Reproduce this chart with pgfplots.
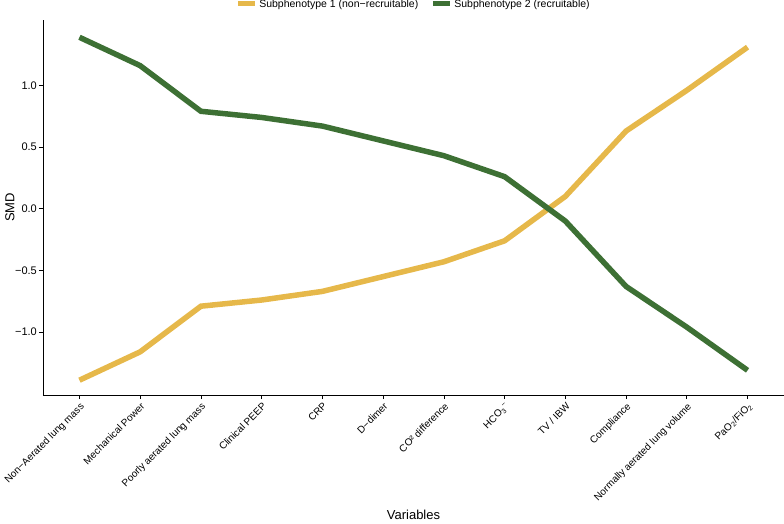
\documentclass[border=0pt]{standalone}
\usepackage{pgfplots}
\pgfplotsset{compat=1.18}
\usepackage{fontspec}
\setmainfont{Liberation Sans}

\definecolor{subyellow}{RGB}{230,184,74}
\definecolor{subgreen}{RGB}{61,112,52}

\begin{document}
\begin{tikzpicture}
\begin{axis}[
    scale only axis,
    width=741pt, height=375pt,
    xmin=-0.6, xmax=11.6,
    ymin=-1.51, ymax=1.53,
    axis lines=left,
    axis line style={black, line width=0.9pt, -},
    tick align=outside,
    major tick length=4pt,
    tick style={black, line width=0.7pt},
    xtick={0,...,11},
    xticklabels={
        Non−Aerated lung mass,
        Mechanical Power,
        Poorly aerated lung mass,
        Clinical PEEP,
        CRP,
        D−dimer,
        CO² difference,
        HCO\textsubscript{3}\textsuperscript{−},
        TV / IBW,
        Compliance,
        Normally aerated lung volume,
        PaO\textsubscript{2}/FiO\textsubscript{2}},
    x tick label style={rotate=45, anchor=north east, font=\fontsize{10}{12}\selectfont, inner sep=2pt},
    ytick={-1,-0.5,0,0.5,1},
    yticklabels={−1.0,−0.5,0.0,0.5,1.0},
    y tick label style={font=\fontsize{11}{13}\selectfont, inner sep=2pt},
    xlabel={Variables},
    ylabel={SMD},
    every axis x label/.style={at={(axis description cs:0.5,0)}, yshift=-120pt, anchor=center, font=\fontsize{13}{15}\selectfont},
    every axis y label/.style={at={(axis description cs:0,0.5)}, xshift=-33pt, rotate=90, anchor=center, font=\fontsize{13}{15}\selectfont},
    legend columns=2,
    legend style={at={(axis description cs:0.5,1)}, yshift=16pt, anchor=center, draw=none, fill=none,
        font=\fontsize{10.5}{12}\selectfont,
        /tikz/every even column/.append style={column sep=10pt}},
    legend image code/.code={\draw[#1, line width=5pt] (0pt,0pt) -- (17pt,0pt);},
    clip=false,
]
\addplot[color=subyellow, line width=5.5pt, mark=none] coordinates {
    (0,-1.39) (1,-1.16) (2,-0.79) (3,-0.74) (4,-0.67) (5,-0.55)
    (6,-0.43) (7,-0.26) (8,0.10) (9,0.63) (10,0.96) (11,1.31)
};
\addlegendentry{Subphenotype 1 (non−recruitable)}
\addplot[color=subgreen, line width=5.5pt, mark=none] coordinates {
    (0,1.39) (1,1.16) (2,0.79) (3,0.74) (4,0.67) (5,0.55)
    (6,0.43) (7,0.26) (8,-0.10) (9,-0.63) (10,-0.96) (11,-1.31)
};
\addlegendentry{Subphenotype 2 (recruitable)}
\end{axis}
\pgfresetboundingbox
\path[use as bounding box] ([xshift=-43pt,yshift=-128pt]current axis.south west) rectangle ([yshift=20pt]current axis.north east);
\end{tikzpicture}
\end{document}
